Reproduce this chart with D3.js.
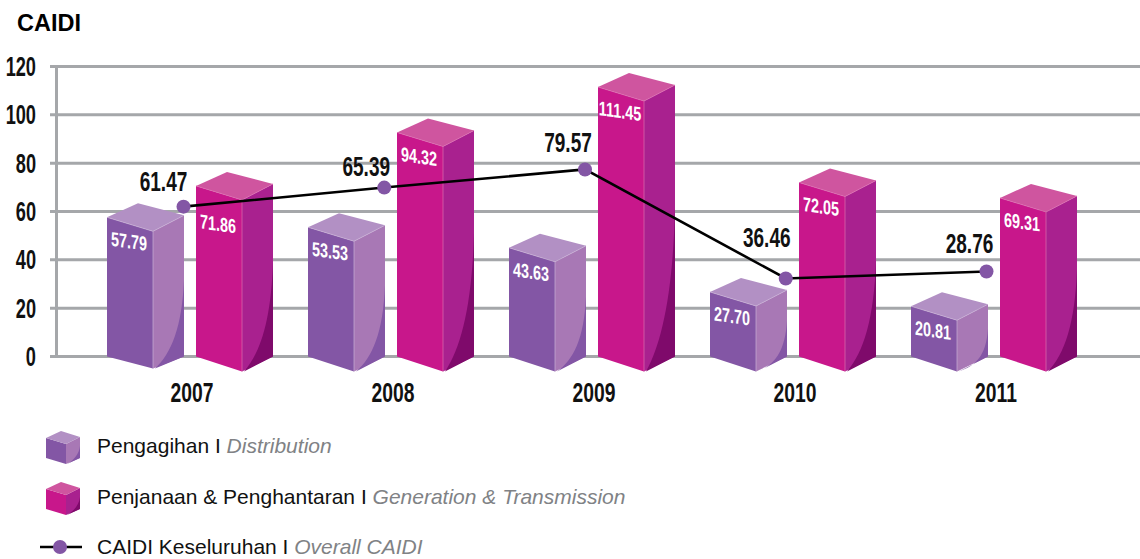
<!DOCTYPE html>
<html lang="en">
<head>
<meta charset="UTF-8">
<title>CAIDI</title>
<script src="https://d3js.org/d3.v7.min.js"></script>
<style>
html,body{margin:0;padding:0;background:#fff;}
svg{display:block;}
text{font-family:"Liberation Sans",Arial,sans-serif;}
.narrow{font-weight:700;}
</style>
</head>
<body>
<div id="chart"></div>
<script>
var years = ["2007", "2008", "2009", "2010", "2011"];
var yTicks = [0, 20, 40, 60, 80, 100, 120];
var distribution = [57.79, 53.53, 43.63, 27.70, 20.81];
var generation = [71.86, 94.32, 111.45, 72.05, 69.31];
var overall = [61.47, 65.39, 79.57, 36.46, 28.76];
// the marks in the picture do not always sit on their own labels, these are read off the axis
var distributionDrawn = [57.6, 53.5, 45, 26.7, 20.8];
var generationDrawn = [70.6, 92.7, 111.5, 72, 65.6];
var overallDrawn = [62, 69.9, 77.4, 32.3, 35.2];

var width = 1140, height = 559;
var svg = d3.select("#chart").append("svg").attr("width", width).attr("height", height);

var y = d3.scaleLinear().domain([0, 120]).range([356.5, 66.5]);
var x = d3.scalePoint().domain(years).range([192, 996]);

svg.append("text").attr("x", 17).attr("y", 31).attr("font-size", 23.5).attr("font-weight", 700).text("CAIDI");

// grid and axis
var axis = d3.axisLeft(y).tickValues(yTicks).tickSize(0);
var gy = svg.append("g").attr("transform", "translate(56,0)").call(axis);
gy.select(".domain").attr("stroke", "#a5a7aa").attr("stroke-width", 3);
gy.selectAll(".tick text").attr("class", "narrow").attr("font-size", 28).attr("fill", "#111")
	.attr("x", 0).attr("transform", "translate(-20,0) scale(.65,1)");
svg.selectAll(".grid").data(yTicks).enter().append("line")
	.attr("class", "grid")
	.attr("x1", 50).attr("x2", width)
	.attr("y1", d => y(d)).attr("y2", d => y(d))
	.attr("stroke", "#a5a7aa").attr("stroke-width", 3);

// draw one box, v sets the height
function box(g, xc, v, c, bottomDy) {
	var w = 46, side = 31, dy = 14;
	var base = y(0), t = y(v), h = base - t;
	var x0 = xc, x1 = xc + w, x2 = xc + w + side;
	var by = base + bottomDy;
	g.append("path").attr("fill", c.front).attr("d", `M${x0},${t}L${x1},${t + dy}L${x1},${by}L${x0},${base}Z`);
	g.append("path").attr("fill", c.side).attr("d", `M${x1},${t + dy}L${x2},${t - 2}L${x2},${base}L${x1},${by}Z`);
	// darker curved patch at the foot of the side face
	var up = h * 0.55;
	g.append("path").attr("fill", c.shade)
		.attr("d", `M${x1 + 2},${by}C${x1 + side * 0.6},${by - up * 0.2} ${x2 - 2},${by - up * 0.55} ${x2},${base - up}L${x2},${base}Z`);
	g.append("path").attr("fill", c.top).attr("d", `M${x0},${t}L${x0 + side},${t - 14}L${x2},${t - 2}L${x1},${t + dy}Z`);
	g.append("path").attr("fill", "none").attr("stroke", c.edge).attr("stroke-width", 0.7)
		.attr("d", `M${x0},${t}L${x1},${t + dy}L${x2},${t - 2}M${x1},${t + dy}L${x1},${by}`);
}
var purple = {front: "#8356a5", side: "#a878b5", shade: "#8356a5", top: "#b290c4", edge: "#c9b0d6"};
var pink = {front: "#c8178b", side: "#a9218f", shade: "#7f0a6b", top: "#cf559f", edge: "#dc6db0"};

// labels follow the slope of the front face, stems stay upright
function barLabel(px, py, v) {
	svg.append("text").attr("class", "narrow")
		.attr("transform", `translate(${px},${py}) skewY(8) scale(.72,1)`)
		.attr("text-anchor", "middle").attr("font-size", 20).attr("fill", "#fff")
		.text(v.toFixed(2));
}

years.forEach(function (yr, i) {
	var g = svg.append("g");
	box(g, x(yr) - 85, distributionDrawn[i], purple, i === 0 ? 12 : 15);
	box(g, x(yr) + 4, generationDrawn[i], pink, 15);
	barLabel(x(yr) - 63, y(distributionDrawn[i]) + 31, distribution[i]);
	// the 2007 label is pushed down to clear the line
	barLabel(x(yr) + 26, y(generationDrawn[i]) + (i === 0 ? 45 : 31), generation[i]);
});

// overall line
var pointLabelDx = [-20, -18, -17, -19, -17];
var pointLabelDy = [16, 12, 17, 31, 18];
var lx = d3.scalePoint().domain(years).range([183.5, 986.5]);
var line = d3.line().x((d, i) => lx(years[i])).y(d => y(d));
svg.append("path").attr("d", line(overallDrawn)).attr("fill", "none").attr("stroke", "#000").attr("stroke-width", 2.6);
svg.selectAll(".pt").data(overallDrawn).enter().append("circle")
	.attr("class", "pt")
	.attr("cx", (d, i) => lx(years[i])).attr("cy", d => y(d)).attr("r", 7).attr("fill", "#8356a5");
svg.selectAll(".ptl").data(overall).enter().append("text")
	.attr("class", "ptl narrow")
	.attr("transform", (d, i) => `translate(${lx(years[i]) + pointLabelDx[i]},${y(overallDrawn[i]) - pointLabelDy[i]}) scale(.68,1)`)
	.attr("text-anchor", "middle").attr("font-size", 28).attr("fill", "#111")
	.text(d => d.toFixed(2));

// year labels
svg.selectAll(".yr").data(years).enter().append("text")
	.attr("class", "yr narrow")
	.attr("transform", d => `translate(${x(d)},402) scale(.69,1)`)
	.attr("text-anchor", "middle").attr("font-size", 28).attr("fill", "#111")
	.text(d => d);

// legend
var legendItems = [
	{name: "Pengagihan I ", en: "Distribution", c: purple, y: 446},
	{name: "Penjanaan & Penghantaran I ", en: "Generation & Transmission", c: pink, y: 497},
	{name: "CAIDI Keseluruhan I ", en: "Overall CAIDI", y: 547}
];
legendItems.forEach(function (d) {
	var g = svg.append("g");
	if (d.c) {
		g.append("path").attr("fill", d.c.front).attr("d", `M46,${d.y - 8}L66,${d.y - 2}L66,${d.y + 18}L46,${d.y + 12}Z`);
		g.append("path").attr("fill", d.c.side).attr("d", `M66,${d.y - 2}L80,${d.y - 9}L80,${d.y + 12}L66,${d.y + 18}Z`);
		g.append("path").attr("fill", d.c.shade).attr("d", `M67,${d.y + 18}C74,${d.y + 14} 79,${d.y + 8} 80,${d.y}L80,${d.y + 12}Z`);
		g.append("path").attr("fill", d.c.top).attr("d", `M46,${d.y - 8}L61,${d.y - 15}L80,${d.y - 9}L66,${d.y - 2}Z`);
	} else {
		g.append("line").attr("x1", 40).attr("x2", 82).attr("y1", d.y).attr("y2", d.y).attr("stroke", "#000").attr("stroke-width", 2.6);
		g.append("circle").attr("cx", 60).attr("cy", d.y).attr("r", 7).attr("fill", "#8356a5");
	}
	var t = g.append("text").attr("x", 97).attr("y", d.y + 7).attr("font-size", 21).attr("fill", "#111");
	t.append("tspan").text(d.name);
	t.append("tspan").attr("font-style", "italic").attr("fill", "#808285").text(d.en);
});
</script>
</body>
</html>
